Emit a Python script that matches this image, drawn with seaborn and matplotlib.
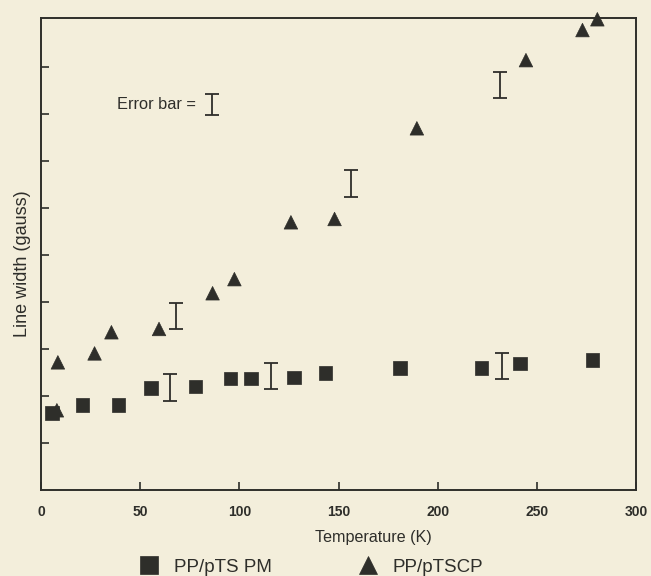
import numpy as np
import pandas as pd
import matplotlib
matplotlib.use("Agg")
import matplotlib.pyplot as plt
import seaborn as sns

# ---- data (y axis has no numeric labels, units = tick intervals) ----
pm_temp = [5.5, 21, 39, 55.5, 78, 95.5, 106, 127.5, 143.5, 181, 222, 241.5, 278]
pm_width = [1.64, 1.81, 1.81, 2.17, 2.21, 2.38, 2.38, 2.40, 2.49, 2.60, 2.60, 2.70, 2.77]

cp_temp = [8, 8.5, 27, 35.5, 59.5, 86.5, 97.5, 126, 148, 189.5, 244.5, 273, 280.5]
cp_width = [1.70, 2.72, 2.91, 3.36, 3.43, 4.19, 4.49, 5.70, 5.77, 7.70, 9.15, 9.79, 10.02]

err_temp = [65, 68, 116, 156.5, 231.5, 232.5]
err_center = [2.18, 3.71, 2.43, 6.52, 8.62, 2.64]
err_half = [0.29, 0.27, 0.28, 0.29, 0.28, 0.28]

legend_err_temp = [86]
legend_err_center = [8.21]
legend_err_half = [0.23]

series_names = ["PP/pTS PM", "PP/pTSCP"]
x_ticks = [0, 50, 100, 150, 200, 250, 300]
y_ticks = list(range(1, 10))

df = pd.DataFrame({
    "Temperature": pm_temp + cp_temp,
    "Width": pm_width + cp_width,
    "Sample": [series_names[0]] * len(pm_temp) + [series_names[1]] * len(cp_temp),
})

paper = "#f3eedb"
ink = "#2e2e2a"

sns.set_theme(style="ticks")
plt.rcParams["font.family"] = ["Liberation Sans", "DejaVu Sans"]

fig = plt.figure(figsize=(6.51, 5.76), dpi=100, facecolor=paper)
ax = fig.add_axes([0.063, 0.149, 0.914, 0.82])
ax.set_facecolor(paper)

sns.scatterplot(data=df, x="Temperature", y="Width", style="Sample",
                markers={series_names[0]: "s", series_names[1]: "^"},
                color=ink, s=95, edgecolor=ink, linewidth=0.5, ax=ax,
                clip_on=False, zorder=3)

ax.errorbar(err_temp, err_center, yerr=err_half, fmt="none", ecolor=ink,
            elinewidth=1.3, capsize=5, capthick=1.3)
ax.errorbar(legend_err_temp, legend_err_center, yerr=legend_err_half, fmt="none",
            ecolor=ink, elinewidth=1.3, capsize=5, capthick=1.3)
ax.text(78, 8.21, "Error bar =", ha="right", va="center", fontsize=11.8, color=ink)

ax.set_xlim(0, 297.5)
ax.set_ylim(0, 10.05)
ax.set_xticks(x_ticks)
ax.set_xticklabels([str(t) for t in x_ticks], fontweight="bold", fontsize=10, color=ink)
ax.set_yticks(y_ticks)
ax.set_yticklabels([])
ax.tick_params(axis="both", direction="in", length=6, width=1.2, colors=ink)
ax.tick_params(axis="x", pad=11)
for sp in ax.spines.values():
    sp.set_color(ink)
    sp.set_linewidth(1.4)

ax.set_xlabel("Temperature (K)", fontsize=11.6, color=ink)
ax.xaxis.set_label_coords(0.558, -0.085)
ax.set_ylabel("Line width (gauss)", fontsize=13, color=ink)
ax.yaxis.set_label_coords(-0.016, 0.48)

sns.move_legend(ax, "center", bbox_to_anchor=(0.4466, -0.1627), ncol=2,
                title=None, frameon=False, fontsize=13.5, markerscale=1.4,
                columnspacing=4.1, handletextpad=0.33, borderpad=0.1)
for t in ax.get_legend().get_texts():
    t.set_color(ink)

fig.savefig("out.png", dpi=100, facecolor=paper)
